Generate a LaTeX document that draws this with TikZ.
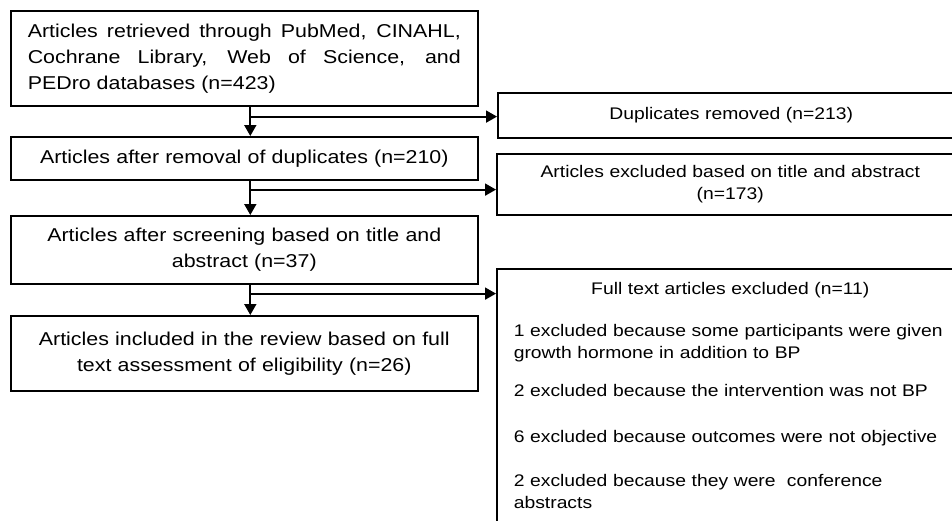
\documentclass[tikz,border=0pt]{standalone}
\usepackage{fontspec}
\setmainfont[FakeStretch=1.15]{Liberation Sans}
\usetikzlibrary{arrows.meta}

\tikzset{
  stage/.style={draw, line width=1.6pt, anchor=north west, text width=433pt,
    inner xsep=17pt, inner ysep=0pt, align=center},
  flow/.style={line width=1.8pt, -{Triangle[length=11pt,width=12pt]}},
}
\newcommand{\bodysize}{\fontsize{18.6}{26}\selectfont}
\newcommand{\sidesize}{\fontsize{16.8}{22}\selectfont}

\begin{document}
\begin{tikzpicture}[x=1pt,y=-1pt,font=\bodysize]
\useasboundingbox (0,0) rectangle (952,520);
\clip (0,0) rectangle (952,520);

% main column
\node[stage, align=justify, minimum height=95pt] (found) at (10,10)
  {Articles retrieved through PubMed, CINAHL,\linebreak Cochrane Library, Web of Science, and\linebreak PEDro databases (n=423)};
\node[stage, minimum height=43pt] (dedup) at (10,136)
  {Articles after removal of duplicates (n=210)};
\node[stage, minimum height=68pt] (screen) at (10,215)
  {Articles after screening based on title and\\ abstract (n=37)};
\node[stage, minimum height=75pt] (incl) at (10,315)
  {Articles included in the review based on full\\ text assessment of eligibility (n=26)};

% excluded column
\node[stage, minimum height=45pt, font=\sidesize] (dup) at (497,92)
  {Duplicates removed (n=213)};
\node[stage, minimum height=61pt, font=\sidesize] (excl) at (496,153)
  {Articles excluded based on title and abstract\\ (n=173)};
\node[stage, align=left, font=\sidesize] (full) at (496,268)
  {{\centering\rule{0pt}{26pt}Full text articles excluded (n=11)\par}
   \vspace{20pt}
   1 excluded because some participants were given\\ growth hormone in addition to BP\par
   \vspace{16pt}
   2 excluded because the intervention was not BP\par
   \vspace{24pt}
   6 excluded because outcomes were not objective\par
   \vspace{22pt}
   2 excluded because they were\ \ conference\\ abstracts\rule[-40pt]{0pt}{40pt}};

% arrows
\coordinate (s1) at ([xshift=6pt]found.south);
\coordinate (s2) at ([xshift=6pt]dedup.south);
\coordinate (s3) at ([xshift=6pt]screen.south);
\draw[flow] (s1) -- (s1 |- dedup.north);
\draw[flow] (s2) -- (s2 |- screen.north);
\draw[flow] (s3) -- (s3 |- incl.north);
\draw[flow] (s1) ++(0,10) coordinate (b1) -- (b1 -| dup.west);
\draw[flow] (s2) ++(0,9) coordinate (b2) -- (b2 -| excl.west);
\draw[flow] (s3) ++(0,9) coordinate (b3) -- (b3 -| full.west);
\end{tikzpicture}
\end{document}
